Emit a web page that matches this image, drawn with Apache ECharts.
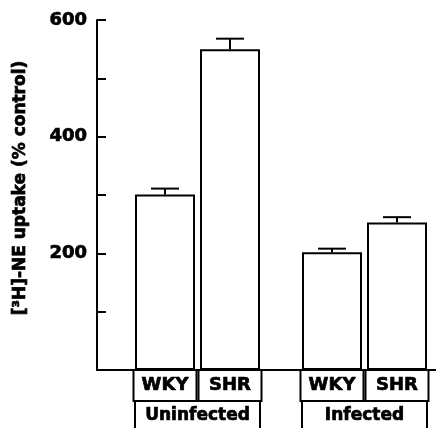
<!DOCTYPE html>
<html>
<head>
<meta charset="utf-8">
<script src="https://cdn.jsdelivr.net/npm/echarts@6/dist/echarts.min.js"></script>
<style>html,body{margin:0;padding:0;background:#fff}#c{width:436px;height:428px}</style>
</head>
<body>
<div id="c"></div>
<script>
var groups = ['Uninfected', 'Infected'];
var strains = ['WKY', 'SHR'];
var uninfectedValues = [301, 550];
var uninfectedErr = [10, 18];
var infectedValues = [202, 253];
var infectedErr = [6, 9];
var yLabeledTicks = [200, 400, 600];
var yTitle = '[³H]-NE uptake (% control)';

var FONT = 'DejaVu Sans';
var HEAVY = {textBorderColor: '#000', textBorderWidth: 0.7};
var chart = echarts.init(document.getElementById('c'), null, {renderer: 'canvas'});

var TOP = 20, BOTTOM = 58;
var boxLabel = function (w, h, size) {
  return Object.assign({
    show: true, interval: 0, margin: 0,
    color: '#000', fontFamily: FONT, fontWeight: 'bold', fontSize: size,
    width: w, height: h, lineHeight: h, align: 'center', verticalAlign: 'top',
    borderColor: '#000', borderWidth: 2, padding: 0
  }, HEAVY);
};
function errSeries(xi, yi, vals, errs) {
  return {
    type: 'custom', xAxisIndex: xi, yAxisIndex: yi, z: 5,
    data: vals.map(function (v, i) { return [i, v, errs[i]]; }),
    renderItem: function (params, api) {
      var x = api.value(0), v = api.value(1), e = api.value(2);
      var p0 = api.coord([x, v]);
      var p1 = api.coord([x, v + e]);
      var half = 14;
      return {
        type: 'group',
        children: [
          {type: 'line', shape: {x1: p0[0], y1: p0[1], x2: p1[0], y2: p1[1]}, style: {stroke: '#000', lineWidth: 2}},
          {type: 'line', shape: {x1: p1[0] - half, y1: p1[1], x2: p1[0] + half, y2: p1[1]}, style: {stroke: '#000', lineWidth: 2}}
        ]
      };
    }
  };
}
function barSeries(xi, yi, vals) {
  return {
    type: 'bar', xAxisIndex: xi, yAxisIndex: yi, barWidth: 60, z: 3,
    data: vals,
    itemStyle: {color: '#fff', borderColor: '#000', borderWidth: 2},
    silent: true
  };
}
var hiddenY = function (g) {
  return {type: 'value', gridIndex: g, min: 0, max: 600, interval: 100, show: false};
};

chart.setOption({
  animation: false,
  backgroundColor: '#fff',
  grid: [
    {left: 97, right: 0, top: TOP, bottom: BOTTOM, containLabel: false, outerBoundsMode: 'none'},
    {left: 132.5, width: 130, top: TOP, bottom: BOTTOM, containLabel: false, outerBoundsMode: 'none'},
    {left: 299.5, width: 130, top: TOP, bottom: BOTTOM, containLabel: false, outerBoundsMode: 'none'}
  ],
  xAxis: [
    {type: 'category', gridIndex: 0, data: [''], z: 10, axisLine: {show: true, lineStyle: {color: '#000', width: 2}}, axisTick: {show: false}, axisLabel: {show: false}},
    {type: 'category', gridIndex: 1, data: strains, axisLine: {show: false}, axisTick: {show: false}, axisLabel: boxLabel(63, 31, 18)},
    {type: 'category', gridIndex: 1, data: [groups[0]], position: 'bottom', offset: 31, axisLine: {show: false}, axisTick: {show: false}, axisLabel: boxLabel(125, 29, 17)},
    {type: 'category', gridIndex: 2, data: strains, axisLine: {show: false}, axisTick: {show: false}, axisLabel: boxLabel(63, 31, 18)},
    {type: 'category', gridIndex: 2, data: [groups[1]], position: 'bottom', offset: 31, axisLine: {show: false}, axisTick: {show: false}, axisLabel: boxLabel(125, 29, 17)}
  ],
  yAxis: [
    {
      type: 'value', gridIndex: 0, min: 0, max: 600, interval: 100,
      name: yTitle, nameLocation: 'middle', nameGap: 68,
      nameTextStyle: Object.assign({color: '#000', fontFamily: FONT, fontWeight: 'bold', fontSize: 17, padding: [0, 0, 0, 14]}, HEAVY),
      axisLine: {show: true, lineStyle: {color: '#000', width: 2}},
      axisTick: {show: true, inside: true, length: 9, lineStyle: {color: '#000', width: 2}},
      splitLine: {show: false},
      axisLabel: Object.assign({
        margin: 10, color: '#000', fontFamily: FONT, fontWeight: 'bold', fontSize: 18,
        formatter: function (v) { return yLabeledTicks.indexOf(v) >= 0 ? String(v) : ''; }
      }, HEAVY)
    },
    hiddenY(1), hiddenY(2)
  ],
  series: [
    barSeries(1, 1, uninfectedValues),
    errSeries(1, 1, uninfectedValues, uninfectedErr),
    barSeries(3, 2, infectedValues),
    errSeries(3, 2, infectedValues, infectedErr)
  ]
});
</script>
</body>
</html>
